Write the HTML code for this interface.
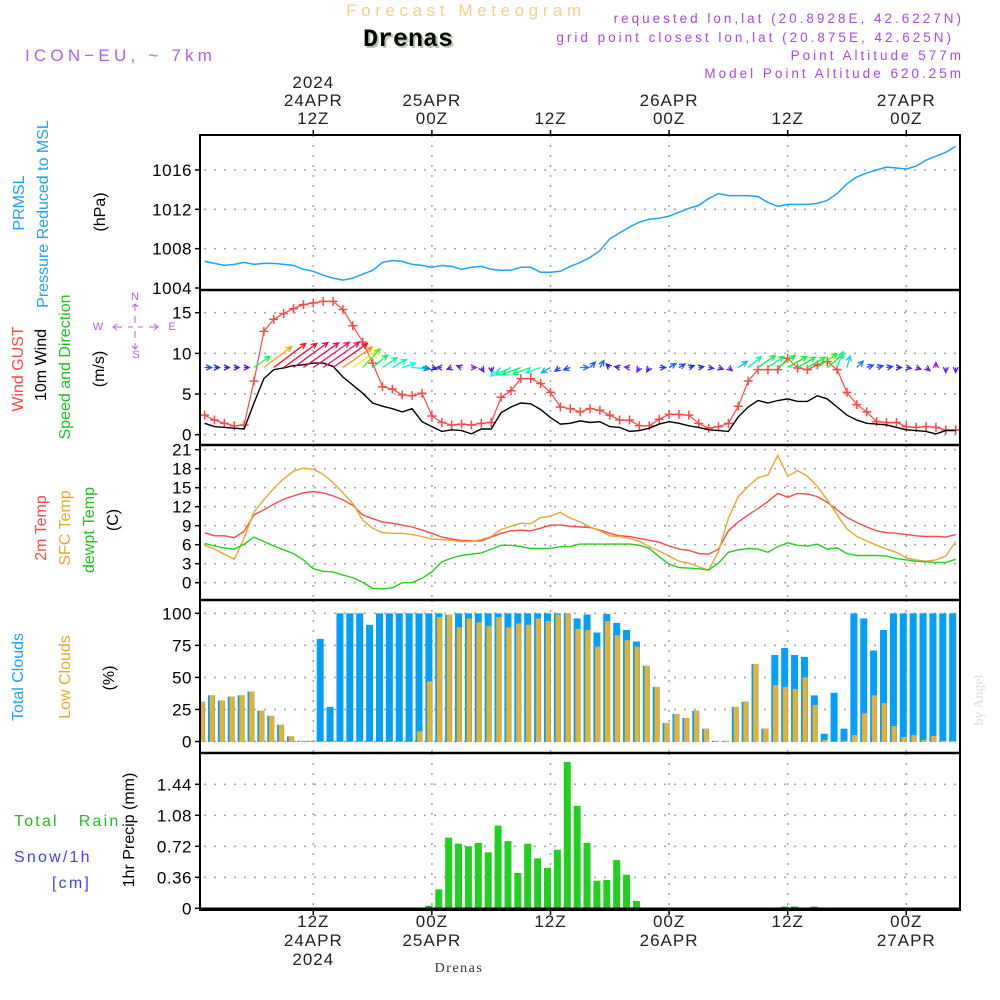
<!DOCTYPE html>
<html><head><meta charset="utf-8"><title>Forecast Meteogram - Drenas</title>
<style>
html,body{margin:0;padding:0;background:#fff;}
svg{display:block;font-family:"Liberation Sans",Arial,sans-serif;}
</style></head>
<body>
<svg id="chart" width="1000" height="1000" viewBox="0 0 1000 1000" xmlns="http://www.w3.org/2000/svg">
  <text x="466" y="16" text-anchor="middle" font-size="17" fill="#f5cf8c" letter-spacing="4.6">Forecast Meteogram</text>
  <text x="410" y="48" text-anchor="middle" font-family="Liberation Mono, monospace" font-weight="bold" font-size="25" fill="#b8c8b0">Drenas</text>
  <text x="408" y="46" text-anchor="middle" font-family="Liberation Mono, monospace" font-weight="bold" font-size="25" fill="#000">Drenas</text>
  <text x="25" y="61" font-size="17" fill="#b060f0" letter-spacing="4.2">ICON−EU, ~ 7km</text>
  <g font-size="13.5" fill="#a848e8" text-anchor="end" letter-spacing="3">
    <text x="964" y="23">requested lon,lat (20.8928E, 42.6227N)</text>
    <text x="954" y="42">grid point closest lon,lat (20.875E, 42.625N)</text>
    <text x="964" y="60">Point Altitude 577m</text>
    <text x="964" y="78">Model Point Altitude 620.25m</text>
  </g>
  <text transform="translate(983,700) rotate(-90)" text-anchor="middle" font-family="Liberation Serif, serif" font-size="14" fill="#dcdcdc">by Angel</text>
  <text x="459" y="972" text-anchor="middle" font-family="Liberation Serif, serif" font-size="14" fill="#333" letter-spacing="1.5">Drenas</text>
  <g id="layer"></g>
</svg>
<script>
// ---- data (hour index t = hours since 00Z 24APR) ----
const hours = [1,2,3,4,5,6,7,8,9,10,11,12,13,14,15,16,17,18,19,20,21,22,23,24,25,26,27,28,29,30,31,32,33,34,35,36,37,38,39,40,41,42,43,44,45,46,47,48,49,50,51,52,53,54,55,56,57,58,59,60,61,62,63,64,65,66,67,68,69,70,71,72,73,74,75,76,77];
const pressure = [1006.7,1006.5,1006.3,1006.4,1006.6,1006.4,1006.5,1006.5,1006.4,1006.3,1005.9,1005.7,1005.3,1005.0,1004.8,1005.0,1005.4,1005.8,1006.6,1006.8,1006.7,1006.4,1006.3,1006.1,1006.3,1006.2,1005.9,1006.1,1006.2,1005.9,1005.8,1005.8,1006.1,1006.1,1005.6,1005.6,1005.7,1006.2,1006.6,1007.1,1007.8,1009.0,1009.6,1010.2,1010.7,1011.0,1011.1,1011.3,1011.7,1012.1,1012.4,1013.1,1013.6,1013.4,1013.4,1013.4,1013.3,1012.7,1012.3,1012.5,1012.5,1012.5,1012.6,1012.9,1013.6,1014.6,1015.3,1015.7,1016.0,1016.3,1016.2,1016.1,1016.4,1017.0,1017.4,1017.8,1018.4];
const windGust = [2.4,1.8,1.4,1.1,1.2,6.6,12.7,14.2,14.9,15.5,16.0,16.2,16.4,16.4,15.4,13.4,11.4,8.8,5.9,5.6,4.9,4.8,5.1,2.3,1.5,1.2,1.3,1.2,1.4,1.5,4.6,5.4,6.9,6.9,6.3,5.2,3.4,3.2,2.8,3.2,3.0,2.4,1.8,1.8,1.1,1.1,1.9,2.5,2.5,2.4,1.4,0.8,1.0,1.4,3.5,6.6,8.0,8.0,8.0,9.4,8.2,8.0,8.6,9.0,8.0,5.2,3.7,2.8,1.6,1.5,1.5,1.0,0.9,1.0,0.9,0.6,0.6];
const windSpeed = [1.4,1.0,0.9,0.8,0.7,3.9,6.9,8.0,8.2,8.5,8.6,8.8,8.8,8.4,7.1,6.1,5.1,3.9,3.5,3.2,2.8,3.2,1.6,1.0,0.4,0.6,0.5,0.1,0.7,0.7,2.7,3.4,3.9,3.8,3.1,2.1,1.3,1.4,1.7,1.5,1.6,1.0,0.9,0.4,0.5,0.8,1.3,1.6,1.4,1.1,0.9,0.6,0.5,0.4,2.2,3.4,4.2,3.9,4.2,4.4,4.1,4.1,4.8,4.4,3.4,2.4,1.8,1.4,1.3,1.2,0.9,0.6,0.5,0.4,0.1,0.5,0.5];
const windDir = [0,0,0,0,0,35,37,37,36,36,35,35,35,35,35,35,47,40,34,30,18,-5,-10,-20,180,200,160,0,-60,-80,220,205,200,200,200,210,215,200,0,45,60,135,170,175,240,240,0,30,30,20,10,-10,-20,-40,35,40,35,35,35,30,30,30,35,40,70,75,45,20,15,10,0,-10,-20,-40,90,-90,-90];
const temp2m = [7.9,7.4,7.4,7.1,8.1,10.7,11.5,12.4,13.2,13.7,14.2,14.4,14.2,13.7,13.1,12.2,10.7,10.1,9.6,9.4,9.1,8.8,8.3,7.8,7.2,6.9,6.7,6.6,6.6,7.2,7.8,8.2,8.3,8.2,8.6,9.1,9.1,8.9,8.8,8.7,8.3,7.8,7.4,7.3,7.0,6.7,6.4,5.8,5.3,5.1,4.6,4.5,5.3,8.2,9.6,10.7,11.7,12.8,14.1,13.5,14.1,14.0,13.6,12.7,11.5,10.3,9.5,8.8,8.2,7.9,7.8,7.6,7.4,7.3,7.3,7.2,7.6];
const tempSfc = [5.9,5.3,4.5,3.7,7.0,11.2,13.1,14.9,16.4,17.6,18.1,17.9,17.1,15.8,14.2,12.5,9.9,8.6,7.9,7.8,7.8,7.6,7.3,6.9,6.8,6.7,6.5,6.5,6.8,7.3,8.4,8.9,9.4,9.3,10.3,10.5,11.1,10.2,9.6,8.8,8.2,7.4,7.3,7.0,6.5,5.7,5.0,4.2,3.4,3.1,2.5,2.0,4.9,10.2,13.6,15.2,16.6,17.0,20.1,16.8,17.7,16.8,15.2,13.1,10.7,8.5,7.3,6.6,5.9,5.3,4.8,3.9,3.6,3.4,3.6,4.2,6.5];
const dewpoint = [6.2,5.8,5.5,5.3,6.1,7.2,6.5,5.8,5.2,4.6,3.6,2.2,1.8,1.7,1.2,0.8,0.05,-0.9,-1.0,-0.8,0,0,0.7,1.7,3.3,3.9,4.3,4.5,4.7,5.3,5.9,5.9,5.7,5.4,5.4,5.4,5.7,5.7,6.1,6.1,6.1,6.1,6.1,6.1,5.9,5.4,4.1,2.9,2.4,2.3,2.2,2.0,3.1,4.8,5.2,5.4,5.3,4.8,5.7,6.3,5.9,5.8,6.1,5.3,5.5,4.6,4.3,4.3,4.3,4.2,3.8,3.6,3.4,3.3,3.2,3.2,3.7];
const totalClouds = [31,36,32,35,36,39,24,20,13,4,0.5,0.5,80,27,100,100,100,91,100,100,100,100,100,100,100,99,100,100,100,100,100,100,100,100,100,100,100,100,96,99,85,99.5,92.5,87,78,59,42.6,14.5,21.5,18.4,24,10,0.5,0.5,27,31,60.5,10,67.5,73,67.5,66,36,6,38,10,100,96,71,87,100,100,100,100,100,100,100];
const lowClouds = [31,36,32,35,36,39,24,20,13,4,0.5,0.5,0,0,0,0,0,0,0,0,0,0,8,47,97,99,89,96,93,90,97,89,92,91,96,94,99,100,88,87,74,94,83,79,74,59,42.6,14.5,21.5,18.4,24,10,0.5,0.5,27,31,60.5,10,44,42.6,41,50,28.5,1.3,0,0.5,5,22,36,30,12,3.6,5,1.3,4.4,0.5,0.5];
const precip = [0,0,0,0,0,0,0,0,0,0,0,0,0,0,0,0,0,0,0,0,0,0,0,0.03,0.22,0.82,0.75,0.72,0.76,0.65,0.96,0.78,0.41,0.75,0.58,0.47,0.68,1.70,1.19,0.76,0.32,0.33,0.56,0.39,0.085,0,0,0,0,0,0,0,0,0,0,0,0,0,0,0.02,0.02,0,0.02,0,0,0,0,0,0,0,0,0,0,0,0,0,0];
const timeTicks = [12,24,36,48,60,72];
const timeTopLabels = [["2024","24APR","12Z"],["","25APR","00Z"],["","","12Z"],["","26APR","00Z"],["","","12Z"],["","27APR","00Z"]];
const timeBottomLabels = [["12Z","24APR","2024"],["00Z","25APR",""],["12Z","",""],["00Z","26APR",""],["12Z","",""],["00Z","27APR",""]];
const pressTicks = [1004,1008,1012,1016];
const windTicks = [0,5,10,15];
const tempTicks = [0,3,6,9,12,15,18,21];
const cloudTicks = [0,25,50,75,100];
const precipTicks = [0,0.36,0.72,1.08,1.44];

// ---- geometry ----
const L = 200, R = 960;
const X = t => 313.3 + (t - 12) * 9.883;
const lin = (v0, p0, v1, p1) => v => p0 + (v - v0) * (p1 - p0) / (v1 - v0);
const yP = lin(1004, 288, 1016, 170);
const yW = lin(0, 434.7, 15, 312.7);
const yT = lin(0, 582.7, 21, 449.7);
const yC = lin(0, 741.5, 100, 613.3);
const yR = lin(0, 908.3, 1.44, 784.3);
const panels = [[135,290],[290,445],[445,600],[600,753],[753,910]];

const NS = "http://www.w3.org/2000/svg";
const layer = document.getElementById("layer");
function mk(tag, attrs, parent) {
  const e = document.createElementNS(NS, tag);
  for (const k in attrs) e.setAttribute(k, attrs[k]);
  (parent || layer).appendChild(e);
  return e;
}
function txt(s, x, y, attrs, parent) { const e = mk("text", Object.assign({x: x, y: y}, attrs), parent); e.textContent = s; return e; }

const defs = mk("defs", {});
panels.forEach((p, i) => {
  const c = mk("clipPath", {id: "clip" + i}, defs);
  mk("rect", {x: L, y: p[0], width: R - L, height: p[1] - p[0]}, c);
});

const grid = mk("g", {stroke: "#a8a8a8", "stroke-width": 1.6, "stroke-dasharray": "2,8", fill: "none"});


panels.forEach(p => timeTicks.forEach(t => mk("line", {x1: X(t), x2: X(t), y1: p[0], y2: p[1]}, grid)));
function hgrid(ticks, fy, skipFirst) {
  ticks.forEach((v, i) => { if (skipFirst && i === 0) return; mk("line", {x1: L + 4, x2: R, y1: fy(v), y2: fy(v)}, grid); });
}
hgrid(pressTicks, yP, true); hgrid(windTicks, yW); hgrid(tempTicks, yT); hgrid(cloudTicks, yC); hgrid(precipTicks, yR, true);

function yLabels(ticks, fy, name, fmt) {
  const g = mk("g", {"font-size": 17, "text-anchor": "end", fill: "#000", "letter-spacing": "0.5"});
  
  
  ticks.forEach(v => {
    txt(fmt ? fmt(v) : String(v), 192, fy(v) + 6, {}, g);
    mk("line", {x1: 195, x2: 200, y1: fy(v), y2: fy(v), stroke: "#000", "stroke-width": 1.5}, g);
  });
}
yLabels(pressTicks, yP, "pressure-y-ticks");
yLabels(windTicks, yW, "wind-y-ticks");
yLabels(tempTicks, yT, "temp-y-ticks");
yLabels(cloudTicks, yC, "cloud-y-ticks");
yLabels(precipTicks, yR, "precip-y-ticks", v => v === 0 ? "0" : v.toFixed(2));

const tl = mk("g", {"font-size": 17, "text-anchor": "middle", fill: "#222", "letter-spacing": "1"});


timeTicks.forEach((t, i) => {
  const top = timeTopLabels[i];
  [88, 106, 124].forEach((y, j) => { if (top[j]) txt(top[j], X(t), y, {}, tl); });
  mk("line", {x1: X(t), x2: X(t), y1: 130, y2: 136, stroke: "#000", "stroke-width": 1.5}, tl);
  const bot = timeBottomLabels[i];
  [927, 946, 965].forEach((y, j) => { if (bot[j]) txt(bot[j], X(t), y, {}, tl); });
  mk("line", {x1: X(t), x2: X(t), y1: 908, y2: 915, stroke: "#000", "stroke-width": 1.5}, tl);
});

function pathFrom(vals, fy) { return vals.map((v, i) => (i ? "L" : "M") + X(hours[i]).toFixed(1) + "," + fy(v).toFixed(1)).join(""); }

const pl = mk("path", {d: pathFrom(pressure, yP), stroke: "#1aa3ff", "stroke-width": 1.5, fill: "none", "clip-path": "url(#clip0)"});



const gl = mk("path", {d: pathFrom(windGust, yW), stroke: "#ff4848", "stroke-width": 1.2, fill: "none", "clip-path": "url(#clip1)"});


const gm = mk("g", {stroke: "#ff4848", "stroke-width": 1.5, "clip-path": "url(#clip1)"});


windGust.forEach((v, i) => {
  const x = X(hours[i]), y = yW(v);
  mk("path", {d: `M${x-4.5},${y}H${x+4.5}M${x},${y-4.5}V${y+4.5}`}, gm);
});
const sl = mk("path", {d: pathFrom(windSpeed, yW), stroke: "#000", "stroke-width": 1.4, fill: "none", "clip-path": "url(#clip1)"});


const arrows = mk("g", {fill: "none", "stroke-width": 1.3, "clip-path": "url(#clip1)"});


const arrowBase = 367.5;
windSpeed.forEach((s, i) => {
  const a = windDir[i] * Math.PI / 180;
  const len = Math.max(s * 5.0, 5);
  const x0 = X(hours[i]), y0 = arrowBase;
  const x1 = x0 + len * Math.cos(a), y1 = y0 - len * Math.sin(a);
  let hue = 275 - s * 34; if (hue < 0) hue += 360;
  const col = `hsl(${hue},95%,${hue > 180 && hue < 300 ? 55 : 50}%)`;
  const h = 6, ha = 0.45;
  const bx1 = x1 - h * Math.cos(a - ha), by1 = y1 + h * Math.sin(a - ha);
  const bx2 = x1 - h * Math.cos(a + ha), by2 = y1 + h * Math.sin(a + ha);
  mk("path", {d: `M${x0},${y0}L${x1},${y1}M${bx1},${by1}L${x1},${y1}L${bx2},${by2}`, stroke: col}, arrows);
});

[[temp2m, "#ff4848", "temp-2m-line"], [tempSfc, "#e8a830", "temp-sfc-line"], [dewpoint, "#20d020", "dewpoint-line"]].forEach(s => {
  const p = mk("path", {d: pathFrom(s[0], yT), stroke: s[1], "stroke-width": 1.4, fill: "none", "clip-path": "url(#clip2)"});
  
  
});

const cg = mk("g", {"clip-path": "url(#clip3)"});


totalClouds.forEach((v, i) => {
  const cx = X(hours[i]) - 3;
  const b = mk("rect", {x: cx - 3.5, y: yC(v), width: 7, height: yC(0) - yC(v) + 0.5, fill: "#049ffa"}, cg);
  
  
  const lv = lowClouds[i];
  const o = mk("rect", {x: cx - 1.8, y: yC(lv), width: 5, height: yC(0) - yC(lv) + 0.5, fill: "#e8b030"}, cg);
  
  
});

const rg = mk("g", {"clip-path": "url(#clip4)"});


precip.forEach((v, i) => {
  if (v <= 0) return;
  const cx = X(hours[i]) - 3;
  const b = mk("rect", {x: cx - 3.5, y: yR(v), width: 7, height: yR(0) - yR(v), fill: "#20cf20"}, rg);
  
  
});

const fr = mk("g", {stroke: "#000", fill: "none"});


mk("rect", {x: L, y: 135, width: R - L, height: 775, "stroke-width": 2}, fr);
[290, 445, 600, 753].forEach(y => mk("line", {x1: L, x2: R, y1: y, y2: y, "stroke-width": 2.5}, fr));
mk("line", {x1: L, x2: R, y1: 909, y2: 909, "stroke-width": 3}, fr);

function vt(s, x, y, col, name, size) {
  const e = txt(s, 0, 0, {transform: `translate(${x},${y}) rotate(-90)`, "text-anchor": "middle", "font-size": size || 16, fill: col});
  
  
}
vt("PRMSL", 24, 203, "#1aa3ff", "pressure-title");
vt("Pressure Reduced to MSL", 48, 214, "#1aa3ff", "pressure-subtitle");
vt("(hPa)", 105, 212, "#000", "pressure-unit");
vt("Wind GUST", 23, 369, "#ff4848", "gust-title");
vt("10m Wind", 46, 365, "#000", "wind-title");
vt("Speed and Direction", 70, 367, "#20c020", "wind-direction-title");
vt("(m/s)", 104, 369, "#000", "wind-unit");
vt("2m Temp", 46, 528, "#ff4848", "temp-2m-title");
vt("SFC Temp", 70, 528, "#e8a830", "temp-sfc-title");
vt("dewpt Temp", 94, 530, "#20c020", "dewpoint-title");
vt("(C)", 118, 520, "#000", "temp-unit");
vt("Total Clouds", 23, 677, "#1aa3ff", "total-clouds-title");
vt("Low Clouds", 70, 677, "#e8a830", "low-clouds-title");
vt("(%)", 114, 678, "#000", "cloud-unit");
vt("1hr Precip (mm)", 134, 830, "#000", "precip-title");
const rl = txt("Total   Rain", 14, 826, {"font-size": 16, fill: "#20c020", "letter-spacing": "2.2"});
rl.setAttribute("xml:space", "preserve");
rl.style.whiteSpace = "pre";


const sn = txt("Snow/1h", 14, 862, {"font-size": 16, fill: "#4040ff", "letter-spacing": "2.2"});


const sc = txt("[cm]", 52, 888, {"font-size": 16, fill: "#4040ff", "letter-spacing": "2.2"});



// compass
const cp = mk("g", {fill: "#b060e8", "font-size": 11, "text-anchor": "middle"});


txt("N", 135, 300, {}, cp);
txt("S", 136, 358, {}, cp);
txt("W", 98, 330, {}, cp);
txt("E", 172, 330, {}, cp);
const cl = mk("g", {stroke: "#b060e8", "stroke-width": 1, fill: "none"}, cp);
mk("path", {d: "M113,327H122M128,327H133M138,327H143M149,327H158M117,324L113,327L117,330M154,324L158,327L154,330"}, cl);
mk("path", {d: "M135,304V311M135,316V323M135,331V338M135,343V349M132,307L135,304L138,307M132,346L135,349L138,346"}, cl);
</script>
</body></html>
